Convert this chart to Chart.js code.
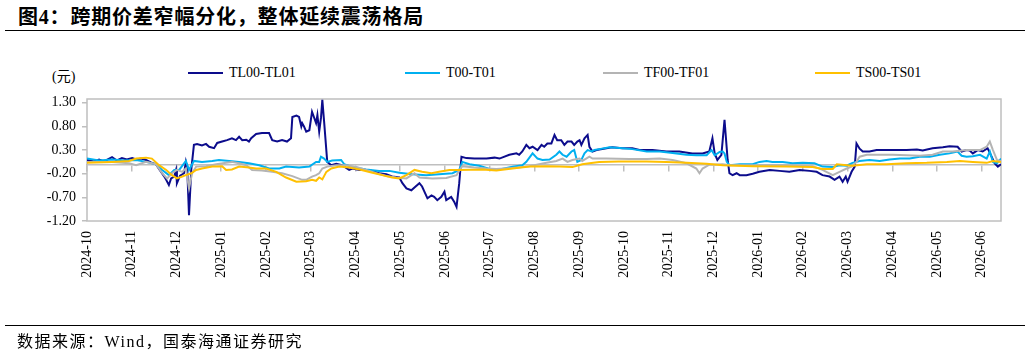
<!DOCTYPE html>
<html>
<head>
<meta charset="utf-8">
<script src="https://cdn.jsdelivr.net/npm/chart.js@4.4.1/dist/chart.umd.min.js"></script>
<style>
body { margin: 0; width: 1031px; height: 356px; background: #fff; position: relative; overflow: hidden;
       font-family: "Liberation Serif", "Noto Sans CJK SC", serif; color: #000; }
#titulo { position: absolute; left: 18px; top: 6px; font-size: 20px; line-height: 22px; letter-spacing: 0.8px; font-weight: bold; white-space: nowrap; }
.raya { position: absolute; left: 5px; width: 1020px; height: 1px; background: #000; }
#unidad { position: absolute; left: 52px; top: 65px; font-size: 14px; }
.item { position: absolute; top: 65px; font-size: 14px; white-space: nowrap; }
.item span { display: inline-block; width: 35px; height: 2px; vertical-align: middle; margin-right: 6px; position: relative; top: -1px; }
#fuente { position: absolute; left: 17px; top: 333px; font-size: 16px; line-height: 18px; letter-spacing: 1.5px; white-space: nowrap; }
canvas { position: absolute; left: 0; top: 0; }
</style>
</head>
<body>
<div id="titulo">图4：跨期价差窄幅分化，整体延续震荡格局</div>
<div class="raya" style="top:30px"></div>
<div id="unidad">(元)</div>
<div id="leyenda"></div>
<canvas id="grafico" width="1031" height="356"></canvas>
<div class="raya" style="top:325px"></div>
<div id="fuente">数据来源：Wind，国泰海通证券研究</div>
<script>
// Meses del eje x (posición 0 = 2024-10)
const months = ['2024-10', '2024-11', '2024-12', '2025-01', '2025-02', '2025-03', '2025-04',
    '2025-05', '2025-06', '2025-07', '2025-08', '2025-09', '2025-10', '2025-11', '2025-12',
    '2026-01', '2026-02', '2026-03', '2026-04', '2026-05', '2026-06'];
const yTicks = [-1.2, -0.7, -0.2, 0.3, 0.8, 1.3];
const seriesNames = ['TL00-TL01', 'T00-T01', 'TF00-TF01', 'TS00-TS01'];
const seriesColors = ['#0c0c8c', '#00b0f0', '#b4b4b4', '#ffc000'];

// [mes, valor]
const tlPoints = [[0,0.09],[0.16,0.06],[0.27,0.10],[0.38,0.06],[0.56,0.15],[0.67,0.08],[0.78,0.13],[0.89,0.10],[1.01,0.13],[1.10,0.10],[1.21,0.12],[1.32,0.09],[1.43,0.04],[1.54,0.00],[1.61,-0.10],[1.66,-0.17],[1.72,-0.25],[1.77,-0.33],[1.83,-0.44],[1.88,-0.30],[1.95,-0.26],[1.99,-0.12],[2.01,-0.40],[2.08,-0.24],[2.17,-0.19],[2.21,0.05],[2.24,-0.08],[2.28,-1.08],[2.33,-0.12],[2.39,0.41],[2.46,0.43],[2.57,0.40],[2.66,0.43],[2.73,0.37],[2.84,0.34],[2.91,0.45],[3.02,0.48],[3.13,0.51],[3.24,0.55],[3.33,0.51],[3.40,0.58],[3.47,0.51],[3.56,0.52],[3.62,0.48],[3.67,0.55],[3.78,0.64],[3.91,0.66],[4.07,0.66],[4.14,0.51],[4.25,0.48],[4.36,0.51],[4.47,0.48],[4.56,0.55],[4.59,1.00],[4.68,1.03],[4.74,1.00],[4.79,0.80],[4.81,0.87],[4.85,0.80],[4.90,0.69],[4.97,0.72],[5.03,1.11],[5.12,0.87],[5.15,1.04],[5.19,0.69],[5.23,0.98],[5.26,1.36],[5.30,0.90],[5.37,0.05],[5.46,-0.02],[5.57,0.01],[5.70,-0.02],[5.86,-0.12],[5.93,-0.09],[6.09,-0.12],[6.24,-0.12],[6.38,-0.14],[6.53,-0.19],[6.69,-0.21],[6.82,-0.26],[6.98,-0.28],[7.05,-0.40],[7.14,-0.51],[7.25,-0.55],[7.32,-0.49],[7.43,-0.40],[7.49,-0.47],[7.61,-0.72],[7.70,-0.66],[7.76,-0.69],[7.83,-0.76],[7.92,-0.69],[7.99,-0.58],[8.03,-0.76],[8.14,-0.69],[8.21,-0.80],[8.26,-0.90],[8.32,-0.40],[8.37,0.16],[8.48,0.13],[8.66,0.12],[8.93,0.12],[9.11,0.14],[9.22,0.12],[9.44,0.20],[9.60,0.23],[9.66,0.20],[9.73,0.27],[9.82,0.41],[9.89,0.34],[9.96,0.37],[10.07,0.30],[10.16,0.41],[10.22,0.37],[10.29,0.44],[10.38,0.44],[10.45,0.62],[10.51,0.51],[10.60,0.51],[10.67,0.41],[10.74,0.48],[10.83,0.48],[10.89,0.41],[10.96,0.48],[11.01,0.51],[11.05,0.41],[11.12,0.55],[11.19,0.62],[11.23,0.37],[11.30,0.27],[11.39,0.30],[11.61,0.34],[11.74,0.36],[11.97,0.34],[12.19,0.34],[12.35,0.30],[12.64,0.30],[12.95,0.27],[13.24,0.27],[13.53,0.23],[13.76,0.23],[13.91,0.27],[13.98,0.55],[14.03,0.23],[14.09,0.09],[14.18,0.20],[14.25,0.94],[14.32,0.09],[14.36,-0.19],[14.43,-0.23],[14.52,-0.19],[14.59,-0.23],[14.74,-0.23],[14.88,-0.20],[15.03,-0.16],[15.26,-0.12],[15.48,-0.14],[15.70,-0.16],[15.93,-0.12],[16.15,-0.14],[16.31,-0.16],[16.44,-0.23],[16.60,-0.26],[16.71,-0.33],[16.82,-0.26],[16.89,-0.37],[16.96,-0.26],[17.00,-0.37],[17.09,-0.16],[17.16,-0.05],[17.20,0.44],[17.27,0.33],[17.34,0.27],[17.49,0.27],[17.65,0.30],[17.87,0.30],[18.10,0.30],[18.32,0.30],[18.55,0.31],[18.68,0.29],[18.90,0.34],[19.13,0.36],[19.28,0.38],[19.46,0.37],[19.55,0.27],[19.66,0.30],[19.73,0.29],[19.80,0.23],[19.91,0.30],[20.02,0.27],[20.13,0.34],[20.22,0.16],[20.29,0.02],[20.36,-0.05],[20.43,0.00]];
const tPoints = [[0,0.12],[0.27,0.08],[0.56,0.10],[0.83,0.08],[1.10,0.09],[1.32,0.05],[1.54,0.00],[1.68,-0.12],[1.83,-0.23],[1.95,-0.12],[2.06,-0.12],[2.17,0.02],[2.21,0.07],[2.28,-0.12],[2.39,0.07],[2.57,0.05],[2.80,0.07],[2.95,0.09],[3.18,0.07],[3.40,0.05],[3.62,0.02],[3.85,-0.02],[4.07,-0.09],[4.30,-0.09],[4.45,-0.05],[4.74,-0.07],[4.97,-0.05],[5.12,0.05],[5.19,0.05],[5.23,0.16],[5.30,0.12],[5.37,0.05],[5.48,0.08],[5.68,0.09],[5.75,0.00],[5.93,-0.06],[6.24,-0.11],[6.53,-0.14],[6.76,-0.14],[6.98,-0.18],[7.27,-0.21],[7.58,-0.23],[7.87,-0.21],[8.17,-0.19],[8.32,-0.12],[8.39,0.05],[8.55,0.00],[8.77,-0.03],[9.00,-0.10],[9.22,-0.11],[9.51,-0.05],[9.73,-0.02],[9.82,0.05],[9.96,0.23],[10.07,0.12],[10.18,0.09],[10.34,0.10],[10.49,0.20],[10.56,0.27],[10.63,0.20],[10.72,0.16],[10.83,0.27],[10.89,0.30],[10.96,0.05],[11.05,0.09],[11.12,0.23],[11.19,0.30],[11.28,0.27],[11.34,0.30],[11.45,0.32],[11.68,0.36],[11.97,0.34],[12.19,0.32],[12.51,0.27],[12.80,0.27],[13.09,0.24],[13.40,0.20],[13.62,0.19],[13.85,0.19],[13.96,0.30],[14.03,0.19],[14.14,0.26],[14.21,0.27],[14.25,0.23],[14.30,0.05],[14.36,-0.02],[14.59,0.00],[14.88,0.00],[15.03,0.05],[15.19,0.07],[15.32,0.05],[15.55,0.05],[15.77,0.02],[16.00,0.03],[16.26,0.02],[16.44,-0.05],[16.67,-0.06],[16.82,-0.02],[16.98,-0.03],[17.11,0.03],[17.27,0.07],[17.49,0.09],[17.72,0.07],[17.94,0.10],[18.17,0.12],[18.39,0.12],[18.61,0.16],[18.84,0.16],[19.06,0.20],[19.28,0.23],[19.46,0.27],[19.55,0.18],[19.66,0.16],[19.80,0.17],[19.96,0.20],[20.11,0.12],[20.18,0.27],[20.25,0.05],[20.34,0.02],[20.43,0.12]];
const tfPoints = [[0,0.05],[0.56,0.05],[0.94,0.02],[1.10,-0.02],[1.32,0.05],[1.54,0.00],[1.68,-0.19],[1.79,-0.30],[1.90,-0.19],[2.01,-0.12],[2.13,-0.16],[2.21,-0.09],[2.28,-0.51],[2.35,-0.19],[2.44,-0.05],[2.66,-0.04],[2.89,0.00],[3.11,0.03],[3.24,0.05],[3.40,0.02],[3.56,-0.02],[3.69,-0.12],[3.91,-0.13],[4.14,-0.16],[4.36,-0.19],[4.59,-0.25],[4.81,-0.33],[4.90,-0.33],[5.03,-0.26],[5.12,-0.23],[5.19,-0.19],[5.26,-0.09],[5.37,-0.05],[5.57,-0.02],[5.79,-0.02],[6.02,-0.06],[6.24,-0.12],[6.47,-0.19],[6.69,-0.25],[6.91,-0.28],[7.14,-0.30],[7.32,-0.19],[7.43,-0.28],[7.72,-0.30],[8.03,-0.29],[8.26,-0.23],[8.32,-0.13],[8.39,-0.04],[8.66,-0.07],[8.93,-0.09],[9.15,-0.10],[9.51,-0.08],[9.89,-0.04],[10.27,0.03],[10.49,0.07],[10.63,0.12],[10.74,0.05],[10.85,0.09],[11.01,0.12],[11.07,0.07],[11.23,0.16],[11.30,0.12],[11.61,0.12],[12.13,0.11],[12.51,0.11],[12.80,0.12],[13.09,0.09],[13.40,0.02],[13.62,-0.09],[13.69,-0.19],[13.76,-0.09],[13.91,-0.01],[14.21,0.00],[14.36,-0.02],[15.03,-0.02],[15.64,-0.02],[16.22,-0.04],[16.44,-0.12],[16.67,-0.23],[16.82,-0.16],[16.98,-0.09],[17.09,-0.05],[17.20,0.05],[17.27,0.16],[17.43,0.20],[17.72,0.20],[18.01,0.20],[18.32,0.19],[18.61,0.18],[18.90,0.20],[19.13,0.27],[19.35,0.27],[19.66,0.30],[19.96,0.30],[20.11,0.37],[20.18,0.48],[20.25,0.30],[20.34,0.09],[20.43,0.06]];
const tsPoints = [[0,0.03],[0.56,0.05],[0.94,0.07],[1.10,0.12],[1.32,0.14],[1.45,0.12],[1.61,-0.02],[1.77,-0.12],[1.90,-0.23],[2.01,-0.30],[2.13,-0.26],[2.21,-0.23],[2.33,-0.19],[2.44,-0.12],[2.57,-0.09],[2.80,-0.05],[3.02,-0.04],[3.11,-0.12],[3.24,-0.11],[3.40,-0.05],[3.62,-0.07],[3.78,-0.09],[4.00,-0.09],[4.23,-0.16],[4.45,-0.28],[4.68,-0.37],[4.90,-0.36],[5.03,-0.33],[5.12,-0.35],[5.19,-0.28],[5.26,-0.32],[5.35,-0.16],[5.46,-0.09],[5.64,-0.05],[5.86,-0.07],[6.09,-0.11],[6.38,-0.18],[6.60,-0.23],[6.82,-0.28],[6.98,-0.30],[7.14,-0.23],[7.32,-0.12],[7.49,-0.16],[7.70,-0.19],[7.87,-0.16],[8.10,-0.12],[8.32,-0.12],[8.84,-0.11],[9.15,-0.13],[9.51,-0.09],[9.89,-0.05],[10.27,-0.04],[10.56,-0.05],[10.85,-0.06],[11.07,0.00],[11.23,0.02],[11.45,0.05],[11.88,0.06],[12.51,0.06],[12.95,0.05],[13.40,0.03],[13.85,0.01],[14.21,-0.02],[14.88,-0.04],[15.64,-0.05],[16.22,-0.06],[16.44,-0.10],[16.67,-0.10],[16.76,0.00],[16.98,-0.02],[17.11,-0.03],[17.43,0.00],[17.87,0.00],[18.32,0.02],[18.77,0.03],[19.22,0.05],[19.51,0.07],[19.80,0.05],[20.11,0.03],[20.25,0.07],[20.43,0.05]];

const allPoints = [tlPoints, tPoints, tfPoints, tsPoints];
const xMax = 20.43;

// Leyenda en HTML (posiciones fijas como en el original)
const legendLeft = [188, 405, 603, 815];
document.getElementById('leyenda').innerHTML = seriesNames.map((name, i) =>
    `<div class="item" style="left:${legendLeft[i]}px"><span style="background:${seriesColors[i]}"></span>${name}</div>`
).join('');

// Marco gris alrededor del área del gráfico
const marco = {
    id: 'marco',
    beforeDatasetsDraw(chart) {
        const { ctx, chartArea: a } = chart;
        ctx.save();
        ctx.strokeStyle = '#bfbfbf';
        ctx.lineWidth = 1.5;
        ctx.strokeRect(a.left, a.top, a.width, a.height);
        ctx.restore();
    }
};

Chart.defaults.font.family = '"Liberation Serif", "Times New Roman", serif';
Chart.defaults.font.size = 14;
Chart.defaults.color = '#000';

const monthTicks = scale => { scale.ticks = months.map((_, i) => ({ value: i })); };

const ctx = document.getElementById('grafico').getContext('2d');
const grafico = new Chart(ctx, {
    type: 'line',
    data: {
        datasets: allPoints.map((pts, i) => ({
            label: seriesNames[i],
            data: pts.map(p => ({ x: p[0], y: p[1] })),
            borderColor: seriesColors[i],
            backgroundColor: seriesColors[i],
            borderWidth: 2,
            pointRadius: 0,
            tension: 0,
            order: 4 - i,
            xAxisID: 'x',
            yAxisID: 'y'
        }))
    },
    options: {
        responsive: false,
        animation: false,
        layout: { padding: { left: 0, right: 30, top: 99, bottom: 56 } },
        plugins: { legend: { display: false }, tooltip: { enabled: false } },
        scales: {
            x: {
                type: 'linear',
                position: 'bottom',
                min: 0,
                max: xMax,
                afterBuildTicks: monthTicks,
                afterFit: scale => { scale.height = 79; },
                grid: { display: false, drawTicks: false },
                border: { display: false },
                ticks: {
                    autoSkip: false,
                    maxRotation: 90,
                    minRotation: 90,
                    padding: 10,
                    callback: v => months[v]
                }
            },
            cero: {
                type: 'linear',
                axis: 'x',
                position: { y: 0 },
                min: 0,
                max: xMax,
                afterBuildTicks: monthTicks,
                grid: { drawOnChartArea: false, drawTicks: true, tickLength: 6, color: '#bfbfbf', lineWidth: 1.5 },
                border: { display: true, color: '#bfbfbf', width: 1.5 },
                ticks: { display: false }
            },
            y: {
                min: -1.2,
                max: 1.38,
                afterBuildTicks: scale => { scale.ticks = yTicks.map(v => ({ value: v })); },
                afterFit: scale => { scale.width = 87; },
                grid: { drawOnChartArea: false, drawTicks: true, tickLength: 5, color: '#bfbfbf', lineWidth: 1.5 },
                border: { display: false },
                ticks: {
                    padding: 6,
                    callback: v => v.toFixed(2)
                }
            }
        }
    },
    plugins: [marco]
});
</script>
</body>
</html>
